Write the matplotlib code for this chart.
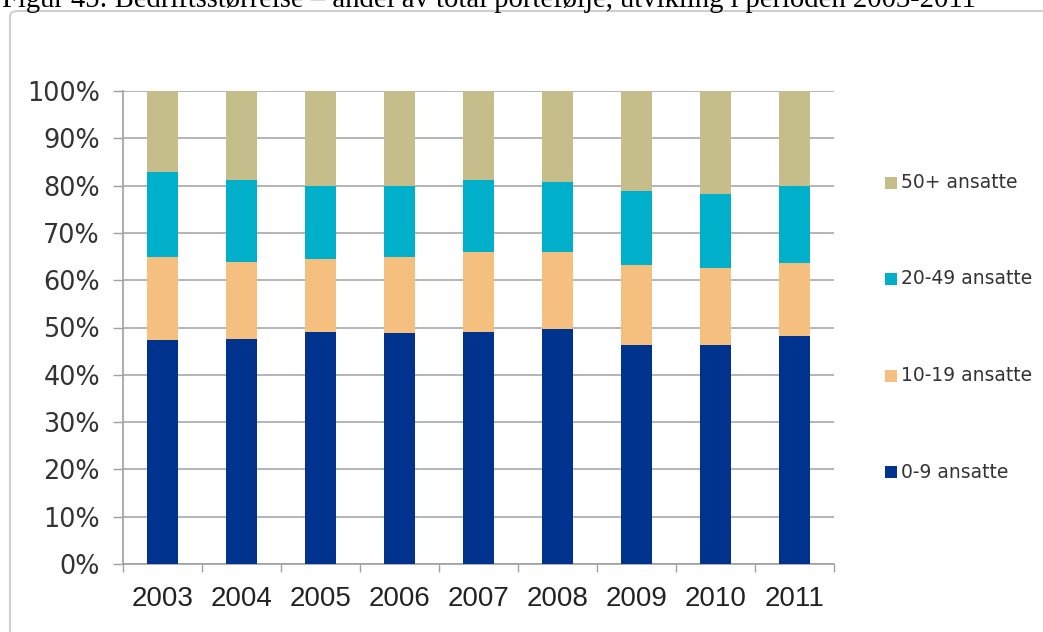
import matplotlib
matplotlib.use("Agg")
import matplotlib.pyplot as plt
from matplotlib.patches import FancyBboxPatch, Rectangle
import numpy as np

years = ["2003", "2004", "2005", "2006", "2007", "2008", "2009", "2010", "2011"]
series_names = ["0-9 ansatte", "10-19 ansatte", "20-49 ansatte", "50+ ansatte"]
s_0_9 = [47.4, 47.6, 49.1, 48.9, 49.1, 49.7, 46.4, 46.2, 48.3]
s_10_19 = [17.5, 16.35, 15.4, 16.0, 16.8, 16.2, 16.8, 16.3, 15.4]
s_20_49 = [17.95, 17.15, 15.5, 15.1, 15.2, 14.9, 15.6, 15.8, 16.3]
s_50 = [17.15, 18.9, 20.0, 20.0, 18.9, 19.2, 21.2, 21.7, 20.0]
yticks = [0, 10, 20, 30, 40, 50, 60, 70, 80, 90, 100]
title = "Figur 45: Bedriftsstørrelse – andel av total portefølje, utvikling i perioden 2003-2011"

colors = ["#00338D", "#F4BF7F", "#00AFCA", "#C5BD8A"]
series = [s_0_9, s_10_19, s_20_49, s_50]

plt.rcParams["font.family"] = ["DejaVu Sans"]

W, H = 1043, 632
fig = plt.figure(figsize=(W / 100, H / 100), dpi=100)

# frame
frame = FancyBboxPatch((10 / W, -0.2), 1.2, 1.2 - 11 / H,
                       boxstyle="round,pad=0,rounding_size=0.008",
                       transform=fig.transFigure, fill=False,
                       edgecolor="#cfcfcf", linewidth=1.5)
fig.add_artist(frame)

fig.text(2 / W, 1 - 7 / H, title, family="Liberation Serif", fontsize=20.6,
         color="black", ha="left", va="baseline")

ax = fig.add_axes([123 / W, 1 - 564 / H, (834 - 123) / W, (564 - 91) / H])
x = np.arange(len(years))
bottom = np.zeros(len(years))
for vals, c, name in zip(series, colors, series_names):
    ax.bar(x, vals, width=0.405, bottom=bottom, color=c, label=name, zorder=3)
    bottom += np.array(vals)

ax.set_xlim(-0.5, len(years) - 0.5)
ax.set_ylim(0, 100)
ax.set_yticks(yticks)
ax.set_yticklabels([f"{v}%" for v in yticks], fontfamily="DejaVu Sans")
ax.yaxis.grid(True, color="#a8a8a8", linewidth=1.2, zorder=0)
ax.set_axisbelow(True)
for s in ["top", "right"]:
    ax.spines[s].set_visible(False)
for s in ["left", "bottom"]:
    ax.spines[s].set_color("#a0a0a0")
    ax.spines[s].set_linewidth(1.2)

ax.tick_params(axis="y", length=7.2, width=1.0, color="#a0a0a0", pad=9.4,
               labelsize=18.4, labelcolor="#333333")

ax.set_xticks(x)
ax.set_xticklabels(years, fontfamily="Liberation Sans")
ax.set_xticks(np.arange(-0.5, len(years), 1.0), minor=True)
ax.tick_params(axis="x", which="major", length=0, pad=16, labelsize=20,
               labelcolor="#222222")
ax.tick_params(axis="x", which="minor", length=6, width=1.0, color="#a0a0a0")

# legend (manual, reversed order)
leg_y = [472, 376, 279, 183]
for name, c, yy in zip(series_names, colors, leg_y):
    fig.add_artist(Rectangle((885 / W, 1 - (yy + 6) / H), 12 / W, 12 / H,
                             transform=fig.transFigure, facecolor=c,
                             edgecolor="none"))
    fig.text(901 / W, 1 - yy / H, name, family="DejaVu Sans", fontsize=13.5,
             color="#333333", ha="left", va="center")

fig.savefig("out.png", dpi=100)
